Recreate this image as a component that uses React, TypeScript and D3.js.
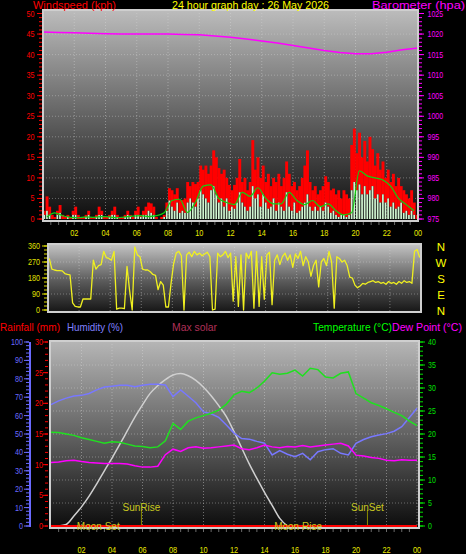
import React from 'react';
import * as d3 from 'd3';

// ---------------- data ----------------
const xLabels = ['02', '04', '06', '08', '10', '12', '14', '16', '18', '20', '22', '00'];
const windTicks = [0, 5, 10, 15, 20, 25, 30, 35, 40, 45, 50];
const baroTicks = [975, 980, 985, 990, 995, 1000, 1005, 1010, 1015, 1020, 1025];
const dirTicks = [0, 90, 180, 270, 360];
const compass = ['N', 'E', 'S', 'W', 'N'];
const humTicks = [0, 10, 20, 30, 40, 50, 60, 70, 80, 90, 100];
const rainTicks = [0, 5, 10, 15, 20, 25, 30];
const tempTicks = [0, 5, 10, 15, 20, 25, 30, 35, 40];

// 10-minute samples (144)
const windGust = [
  2, 5.5, 3, 1, 0.5, 2, 3.4, 1, 0.5, 1,
  0.5, 2, 3, 1, 0.5, 0.5, 1, 2, 0.5, 0.5,
  1, 3, 2, 0.5, 0.5, 1, 2, 3, 1, 0.5,
  0.5, 1, 2, 1, 0.5, 2, 3, 1, 2, 3,
  4, 3.8, 3, 0.5, 0, 0.5, 1, 4, 7.5, 7,
  6, 7.5, 4.6, 4.6, 5, 9, 8, 9, 8.5, 9,
  13, 12, 13, 11, 13, 16.7, 15, 12.4, 11, 12,
  10, 8.3, 7, 8.3, 10, 14.6, 9, 10, 7, 9,
  19.2, 12, 15, 10, 13, 9, 11, 8, 10, 9,
  11, 8, 10, 14, 11, 8, 9, 7, 8, 10,
  13, 16.7, 9, 7, 8, 6, 7, 8, 10.4, 9,
  7, 7.4, 6, 7, 5, 7, 6, 5, 18, 22,
  16, 21, 15, 19, 14, 20, 17, 13, 16, 12,
  14, 10, 12, 9, 11, 8, 10, 8, 7, 6,
  5, 7, 4, 1,
];
const windSpeed = [
  1, 2, 1, 0, 0, 1, 1.5, 0, 0, 0.5,
  0, 1, 1, 0, 0, 0, 0.5, 1, 0, 0,
  0.5, 1, 1, 0, 0, 0.5, 1, 1, 0.5, 0,
  0, 0.5, 1, 0.5, 0, 1, 1, 0.5, 1, 1,
  2, 1.5, 1, 0, 0, 0, 0.5, 2, 4.5, 3,
  2, 4, 1.5, 2, 1.5, 4, 5, 4, 3, 5,
  7, 6, 5, 4, 7, 8, 6, 4, 5, 3,
  5, 2, 3, 2.5, 4, 6.5, 4, 3, 2, 3,
  8, 5, 6, 3, 6, 4, 2.5, 3, 5, 2,
  4, 3, 2, 6.5, 3, 2, 4, 1.5, 2, 3,
  4, 6, 3, 2, 3, 2, 3, 2, 4, 3,
  1.5, 2, 1, 0.5, 1, 1, 0.5, 1, 7, 9,
  7, 8.4, 6, 8, 6, 7, 8, 5, 6, 4,
  6, 4, 5, 3, 4, 2.5, 3, 4, 1.5, 2,
  1, 2, 1, 0,
];
// 30-minute samples (48)
const windAvg = [
  0.5, 1.5, 0.8, 0.4, 0.3, 0.5, 0.4, 0.6, 0.5, 0.3,
  0.5, 0.7, 0.8, 0.6, 0.8, 1.5, 4.5, 4.8, 1.6, 4,
  8, 8.3, 5, 4, 3.5, 6.5, 5.5, 7.6, 5, 3.7,
  3.7, 6.5, 4.5, 3.5, 4.5, 3, 3.7, 2, 1, 1.5,
  11.7, 10.5, 10, 9.5, 8, 5, 3.5, 2,
];
// hourly (25)
const baro = [
  1020.5, 1020.4, 1020.3, 1020.2, 1020.1, 1020.0, 1020.0, 1020.0, 1020.0, 1019.9,
  1019.8, 1019.5, 1019.2, 1018.8, 1018.3, 1017.8, 1017.2, 1016.6, 1016.0, 1015.5,
  1015.2, 1015.2, 1015.6, 1016.2, 1016.6,
];
// 10-minute samples (144)
const windDir = [
  290, 230, 225, 222, 222, 220, 205, 200, 198, 40,
  20, 17, 17, 62, 62, 62, 62, 280, 230, 250,
  255, 330, 295, 290, 280, 330, 5, 10, 10, 8,
  245, 110, 0, 355, 310, 300, 230, 225, 225, 215,
  200, 195, 115, 160, 140, 17, 17, 150, 260, 320,
  330, 305, 0, 310, 325, 300, 330, 310, 320, 305,
  315, 325, 300, 0, 5, 320, 300, 310, 330, 295,
  320, 50, 300, 20, 310, 0, 320, 290, 330, 10,
  330, 20, 300, 60, 310, 325, 30, 280, 310, 255,
  300, 320, 280, 310, 240, 315, 290, 330, 250, 300,
  270, 190, 250, 280, 130, 270, 290, 250, 330, 270,
  10, 300, 290, 270, 280, 250, 185, 180, 140, 125,
  135, 150, 145, 155, 160, 165, 155, 160, 150, 155,
  145, 160, 150, 155, 145, 160, 150, 165, 155, 160,
  150, 330, 340, 295,
];
// 30-minute samples (49)
const temperature = [
  20.4, 20.3, 20.0, 19.7, 19.2, 18.8, 18.4, 18.0, 18.3, 18.2,
  17.8, 17.4, 17.3, 17.0, 17.2, 18.5, 22.3, 21.0, 22.8, 23.5,
  24.0, 24.5, 25.2, 26.5, 28.5, 29.3, 29.0, 30.0, 31.5, 33.3,
  33.0, 33.2, 33.9, 32.6, 34.3, 34.0, 32.4, 32.2, 33.2, 33.5,
  28.8, 27.8, 26.8, 26.2, 25.5, 24.7, 24.0, 22.8, 21.8,
];
const humidity = [
  66, 68, 69.5, 70.7, 71, 72, 74, 75.5, 76, 76.5,
  76.5, 75.7, 76.5, 77, 77, 76.6, 70.3, 73.9, 70.5, 67,
  62, 61, 59, 54.9, 50.5, 47.5, 47.2, 46, 45, 38.6,
  41, 39, 37.7, 39.5, 36, 40.4, 41.5, 42, 39.5, 38.6,
  44.9, 47, 48.5, 49.5, 50.2, 51.5, 54, 59, 64,
];
const dewPoint = [
  13.8, 13.9, 14.2, 14.3, 14.0, 13.8, 13.7, 13.6, 13.6, 13.6,
  13.5, 13.1, 12.8, 12.8, 13.0, 15.5, 16.7, 16.2, 17.0, 17.2,
  16.9, 17.0, 17.2, 17.4, 17.6, 16.8, 16.6, 17.0, 17.6, 17.2,
  17.0, 17.3, 17.2, 17.5, 17.2, 17.4, 17.6, 17.8, 18.0, 17.4,
  15.4, 15.2, 14.9, 14.7, 14.3, 14.2, 14.4, 14.3, 14.3,
];
const maxSolar = [
  0, 0, 10, 65, 125, 195, 275, 360, 443, 530,
  620, 710, 790, 865, 915, 955, 985, 995, 980, 950,
  905, 850, 785, 713, 615, 510, 405, 310, 220, 135,
  50, 0, 0, 0, 0, 0, 0, 0, 0, 0,
  0, 0, 0, 0, 0, 0, 0, 0, 0,
];
const rainfall = [0, 0];
const sunEvents = [
  { label: 'SunRise', hour: 5.93, line: true },
  { label: 'SunSet', hour: 20.75, line: true },
  { label: 'Moon Set', hour: 3.1, line: false },
  { label: 'Moon Rise', hour: 16.2, line: false },
];

// ---------------- layout ----------------
const FONT = 'Liberation Sans, Arial, sans-serif';
const TOP = { x0: 43, x1: 418, y0: 10, y1: 221 };
const MID = { x0: 48, x1: 421, y0: 244, y1: 312 };
const BOT = { x0: 50, x1: 419, y0: 341, y1: 528 };

const xTop = d3.scaleLinear().domain([0, 24]).range([43, 418]);
const yWind = d3.scaleLinear().domain([0, 50]).range([219, 13.5]);
const yBaro = d3.scaleLinear().domain([975, 1025]).range([219, 13.5]);
const xMid = d3.scaleLinear().domain([0, 24]).range([48, 421]);
const yDir = d3.scaleLinear().domain([0, 360]).range([310, 246]);
const xBot = d3.scaleLinear().domain([0, 24]).range([51, 417]);
const yHum = d3.scaleLinear().domain([0, 100]).range([526, 342]);
const yRain = d3.scaleLinear().domain([0, 30]).range([526, 342]);
const yTemp = d3.scaleLinear().domain([0, 40]).range([526, 342]);
const ySolar = d3.scaleLinear().domain([0, 1200]).range([526, 342]);

function Txt(p: any) {
  const { x, y, anchor = 'start', fill, size = 11, len, children, weight } = p;
  return (
    <text x={x} y={y} textAnchor={anchor} fill={fill} fontSize={size} fontFamily={FONT}
      fontWeight={weight}
      {...(len ? { textLength: len, lengthAdjust: 'spacingAndGlyphs' } : {})}>{children}</text>
  );
}

function Panel({ r, id, c0, c1 }: any) {
  return (
    <g>
      <defs>
        <linearGradient id={id} x1="0" y1="0" x2="0" y2="1">
          <stop offset="0" stopColor={c0} />
          <stop offset="0.55" stopColor="#5a5a5a" />
          <stop offset="1" stopColor={c1} />
        </linearGradient>
      </defs>
      <rect x={r.x0} y={r.y0} width={r.x1 - r.x0} height={r.y1 - r.y0} fill={`url(#${id})`} />
    </g>
  );
}

function Border({ r }: any) {
  return <rect x={r.x0} y={r.y0} width={r.x1 - r.x0} height={r.y1 - r.y0} fill="none" stroke="#cfcfcf" strokeWidth={2} />;
}

function VGrid({ x, r }: any) {
  return (
    <g>
      {xLabels.map((_, i) => (
        <line key={i} x1={x((i + 1) * 2)} x2={x((i + 1) * 2)} y1={r.y0} y2={r.y1}
          stroke="#d8d8d8" strokeOpacity={0.45} strokeDasharray="1,2" />
      ))}
    </g>
  );
}

function HGrid({ ys, r }: any) {
  return (
    <g>
      {ys.map((y: number, i: number) => (
        <line key={i} x1={r.x0} x2={r.x1} y1={y} y2={y}
          stroke="#d8d8d8" strokeOpacity={0.4} strokeDasharray="1,2" />
      ))}
    </g>
  );
}

function LeftAxis({ scale, ticks, minor, x, color, labelX, lenPer = 4 }: any) {
  const [a, b] = scale.domain();
  const mins = d3.range(a, b + 0.0001, minor);
  return (
    <g>
      {mins.map((v: number, i: number) => (
        <line key={'m' + i} x1={x - 3} x2={x} y1={scale(v)} y2={scale(v)} stroke={color} strokeWidth={1} />
      ))}
      {ticks.map((v: number, i: number) => (
        <g key={i}>
          <line x1={x - 5} x2={x} y1={scale(v)} y2={scale(v)} stroke={color} strokeWidth={1} />
          <Txt x={labelX} y={scale(v) + 3} anchor="end" fill={color} size={8.5} len={String(v).length * lenPer}>{v}</Txt>
        </g>
      ))}
    </g>
  );
}

function RightAxis({ scale, ticks, minor, x, color, labelX, lenPer = 3.9 }: any) {
  const [a, b] = scale.domain();
  const mins = d3.range(a, b + 0.0001, minor);
  return (
    <g>
      {mins.map((v: number, i: number) => (
        <line key={'m' + i} x1={x} x2={x + 3} y1={scale(v)} y2={scale(v)} stroke={color} strokeWidth={1} />
      ))}
      {ticks.map((v: number, i: number) => (
        <g key={i}>
          <line x1={x} x2={x + 5} y1={scale(v)} y2={scale(v)} stroke={color} strokeWidth={1} />
          <Txt x={labelX} y={scale(v) + 3} anchor="start" fill={color} size={8.5} len={String(v).length * lenPer}>{v}</Txt>
        </g>
      ))}
    </g>
  );
}

function XAxis({ x, y, labelY }: any) {
  const halfHours = d3.range(1, 48);
  return (
    <g>
      {halfHours.map((h) => (
        <line key={h} x1={x(h / 2)} x2={x(h / 2)} y1={y} y2={y + 3} stroke="#6a6a6a" />
      ))}
      {xLabels.map((l, i) => (
        <Txt key={i} x={x((i + 1) * 2)} y={labelY} anchor="middle" fill="#e8e800" size={8.5} len={8.2}>{l}</Txt>
      ))}
    </g>
  );
}

export default function App() {
  const step10 = 1 / 6;
  const barW = xTop(step10) - xTop(0);

  const baroLine = d3.line<number>().x((_, i) => xTop(i)).y((d) => yBaro(d));
  const avgLine = d3.line<number>().x((_, i) => xTop(i * 0.5 + 0.25)).y((d) => yWind(d)).curve(d3.curveMonotoneX);
  const dirLine = d3.line<number>().x((_, i) => xMid(i * step10 + step10 / 2)).y((d) => yDir(d));
  const halfX = (i: number) => xBot(i * 0.5);
  const tempLine = d3.line<number>().x((_, i) => halfX(i)).y((d) => yTemp(d));
  const dewLine = d3.line<number>().x((_, i) => halfX(i)).y((d) => yTemp(d));
  const humLine = d3.line<number>().x((_, i) => halfX(i)).y((d) => yHum(d));
  const solarLine = d3.line<number>()
    .defined((d, i) => d > 0 || (i > 0 && maxSolar[i - 1] > 0) || (i < maxSolar.length - 1 && maxSolar[i + 1] > 0))
    .x((_, i) => halfX(i)).y((d) => ySolar(d)).curve(d3.curveMonotoneX);
  const rainLine = d3.line<number>().x((_, i) => xBot(i * 24)).y((d) => yRain(d));

  return (
    <svg width={466} height={554} style={{ position: 'absolute', left: 0, top: 0, background: '#000' }}>
      <rect x={0} y={0} width={466} height={554} fill="#000" />

      {/* ---------- top panel ---------- */}
      <Panel r={TOP} id="gTop" c0="#bcbcbc" c1="#0c0c0c" />
      <VGrid x={xTop} r={TOP} />
      <HGrid ys={windTicks.slice(1, 10).map((v) => yWind(v))} r={TOP} />
      {windGust.map((g, i) => (
        <rect key={'g' + i} x={xTop(i * step10)} width={barW + 0.3}
          y={yWind(g)} height={Math.max(0, yWind(windSpeed[i]) - yWind(g))} fill="#ff0000" />
      ))}
      {windSpeed.map((s, i) => (
        <rect key={'s' + i} x={xTop(i * step10) + 0.5} width={1.7}
          y={yWind(s)} height={yWind(0) - yWind(s)} fill="#d0f4d0" />
      ))}
      <path d={avgLine(windAvg) || ''} fill="none" stroke="#10d010" strokeWidth={1.2} />
      <path d={baroLine(baro) || ''} fill="none" stroke="#ff00ff" strokeWidth={1.5} />
      <Border r={TOP} />
      <LeftAxis scale={yWind} ticks={windTicks} minor={1} x={42} color="#ff0000" labelX={34.5} />
      <RightAxis scale={yBaro} ticks={baroTicks} minor={1} x={419} color="#ff00ff" labelX={427.5} />
      <XAxis x={xTop} y={222} labelY={236} />

      {/* ---------- titles ---------- */}
      <Txt x={33} y={9} fill="#ff0000" size={11} len={83}>Windspeed (kph)</Txt>
      <Txt x={172} y={9} fill="#ffff00" size={11} len={157}>24 hour graph day : 26 May 2026</Txt>
      <Txt x={372} y={9} fill="#ff00ff" size={11} len={93}>Barometer (hpa)</Txt>

      {/* ---------- middle panel ---------- */}
      <Panel r={MID} id="gMid" c0="#c4c4c4" c1="#161616" />
      <VGrid x={xMid} r={MID} />
      <HGrid ys={[90, 180, 270].map((v) => yDir(v))} r={MID} />
      <path d={dirLine(windDir) || ''} fill="none" stroke="#f0f020" strokeWidth={1.3} strokeLinejoin="round" />
      <Border r={MID} />
      <LeftAxis scale={yDir} ticks={dirTicks} minor={22.5} x={47} color="#e0e000" labelX={40} lenPer={4} />
      {dirTicks.map((v, i) => (
        <Txt key={i} x={441} y={yDir(v) + 4.5} anchor="middle" fill="#ffff00" size={11.5}>{compass[i]}</Txt>
      ))}

      {/* ---------- bottom legend ---------- */}
      <Txt x={0} y={331} fill="#ff0000" size={11} len={60}>Rainfall (mm)</Txt>
      <Txt x={67} y={331} fill="#8080ff" size={11} len={56}>Humidity (%)</Txt>
      <Txt x={172} y={331} fill="#b03058" size={11} len={45}>Max solar</Txt>
      <Txt x={313} y={331} fill="#00ff00" size={11} len={79}>Temperature (°C)</Txt>
      <Txt x={392} y={331} fill="#ff00ff" size={11} len={70}>Dew Point (°C)</Txt>

      {/* ---------- bottom panel ---------- */}
      <Panel r={BOT} id="gBot" c0="#b6b6b6" c1="#0c0c0c" />
      <VGrid x={xBot} r={BOT} />
      <HGrid ys={tempTicks.slice(1, 8).map((v) => yTemp(v))} r={BOT} />
      <path d={solarLine(maxSolar) || ''} fill="none" stroke="#d0d0d0" strokeWidth={1.5} />
      <path d={humLine(humidity) || ''} fill="none" stroke="#7878ff" strokeWidth={1.5} />
      <path d={tempLine(temperature) || ''} fill="none" stroke="#20e020" strokeWidth={1.5} />
      <path d={dewLine(dewPoint) || ''} fill="none" stroke="#ff00ff" strokeWidth={1.5} />
      {sunEvents.filter((e) => e.line).map((e, i) => (
        <line key={i} x1={xBot(e.hour)} x2={xBot(e.hour)} y1={510} y2={526} stroke="#8c8c00" strokeWidth={1} />
      ))}
      <Border r={BOT} />
      <path d={rainLine(rainfall) || ''} fill="none" stroke="#ff0000" strokeWidth={2} />
      {sunEvents.map((e, i) => (
        <Txt key={i} x={xBot(e.hour)} y={e.line ? 510.5 : 529.5} anchor="middle" fill="#c8c820" size={10}>{e.label}</Txt>
      ))}
      {/* humidity axis */}
      <line x1={30} x2={30} y1={342} y2={527} stroke="#6a6aff" strokeWidth={2} />
      <LeftAxis scale={yHum} ticks={humTicks} minor={2} x={29} color="#6a6aff" labelX={23} />
      <LeftAxis scale={yRain} ticks={rainTicks} minor={1} x={48} color="#ff0000" labelX={43} />
      <RightAxis scale={yTemp} ticks={tempTicks} minor={1} x={420} color="#00e000" labelX={428} />
      <XAxis x={xBot} y={529} labelY={553} />
    </svg>
  );
}
